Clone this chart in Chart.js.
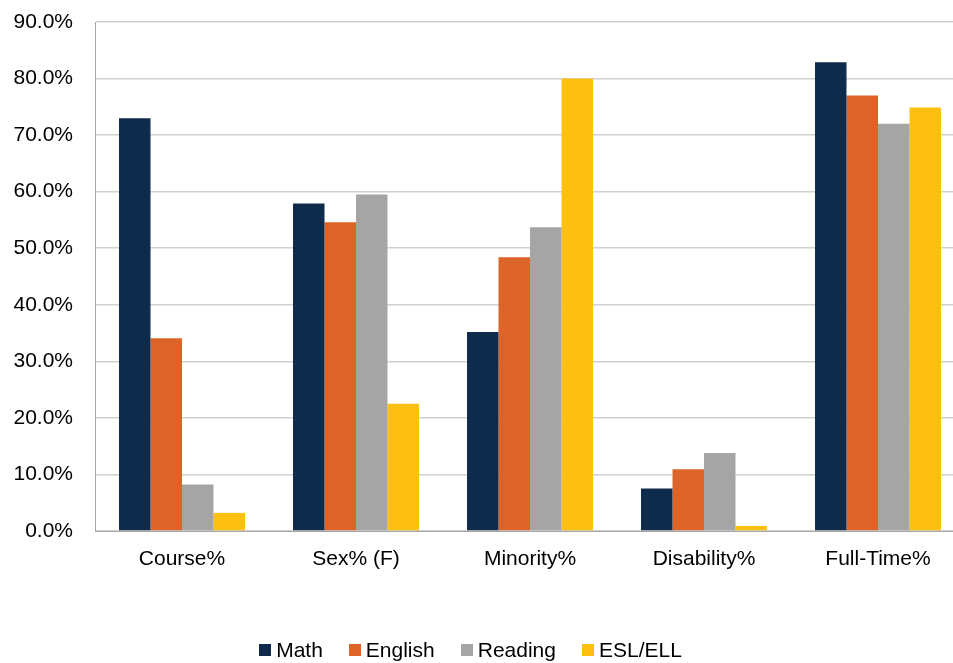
<!DOCTYPE html>
<html>
<head>
<meta charset="utf-8">
<script src="https://cdn.jsdelivr.net/npm/chart.js@4"></script>
<style>
  html, body { margin: 0; padding: 0; background: #fff; }
  #wrap { position: relative; width: 953px; height: 663px; overflow: hidden; }
  #legend {
    position: absolute; left: -6px; width: 953px; top: 638px;
    display: flex; justify-content: center;
    font-family: 'Liberation Sans', Arial, sans-serif; font-size: 21px; color: #000;
  }
  #legend span.item { display: flex; align-items: center; margin: 0 13px; }
  #legend span.box { display: inline-block; width: 12px; height: 12px; margin-right: 5px; }
</style>
</head>
<body>
<div id="wrap">
  <canvas id="chart" width="965" height="663"></canvas>
  <div id="legend"></div>
</div>
<script>
// categorias y valores (en %)
const categories = ['Course%', 'Sex% (F)', 'Minority%', 'Disability%', 'Full-Time%'];
const math = [73.0, 57.9, 35.2, 7.5, 82.9];
const english = [34.1, 54.6, 48.4, 10.9, 77.0];
const reading = [8.2, 59.5, 53.7, 13.8, 72.0];
const esl = [3.2, 22.5, 80.0, 0.9, 74.9];
const yTicks = [0, 10, 20, 30, 40, 50, 60, 70, 80, 90];

const font = "'Liberation Sans', Arial, sans-serif";

function ds(label, data, color) {
  return {
    label: label,
    data: data,
    backgroundColor: color,
    borderWidth: 0,
    barPercentage: 1,
    categoryPercentage: 0.724,
  };
}

// quitar el margen automatico de las etiquetas para controlar el area del grafico
function noPad(s) {
  s.paddingTop = 0;
  s.paddingBottom = 0;
  s.paddingLeft = 0;
  s.paddingRight = 0;
}

const ctx = document.getElementById('chart').getContext('2d');
const chart = new Chart(ctx, {
  type: 'bar',
  data: {
    labels: categories,
    datasets: [
      ds('Math', math, '#0F2B4B'),
      ds('English', english, '#DC6428'),
      ds('Reading', reading, '#A5A5A5'),
      ds('ESL/ELL', esl, '#FDC010'),
    ],
  },
  options: {
    responsive: false,
    animation: false,
    layout: { padding: { top: 22, right: 0, left: 0, bottom: 0 } },
    plugins: {
      legend: { display: false },
      tooltip: { enabled: false },
    },
    scales: {
      x: {
        grid: { display: false, drawTicks: false },
        border: { color: '#A6A6A6', width: 1 },
        ticks: {
          color: '#000',
          padding: 16,
          maxRotation: 0,
          font: { family: font, size: 21 },
        },
        afterFit: (s) => { s.height = 132; noPad(s); },
      },
      y: {
        min: 0,
        max: 90,
        afterBuildTicks: (s) => { s.ticks = yTicks.map(v => ({ value: v })); },
        grid: { color: '#D0D0D0', lineWidth: 1.5, drawTicks: false },
        border: { color: '#A6A6A6', width: 1 },
        ticks: {
          color: '#000',
          padding: 22,
          font: { family: font, size: 21 },
          callback: (v) => v.toFixed(1) + '%',
        },
        afterFit: (s) => { s.width = 95; noPad(s); },
      },
    },
  },
});

// leyenda en HTML a partir de los datasets
const legend = document.getElementById('legend');
chart.data.datasets.forEach(d => {
  const item = document.createElement('span');
  item.className = 'item';
  const box = document.createElement('span');
  box.className = 'box';
  box.style.background = d.backgroundColor;
  item.appendChild(box);
  item.appendChild(document.createTextNode(d.label));
  legend.appendChild(item);
});
</script>
</body>
</html>
